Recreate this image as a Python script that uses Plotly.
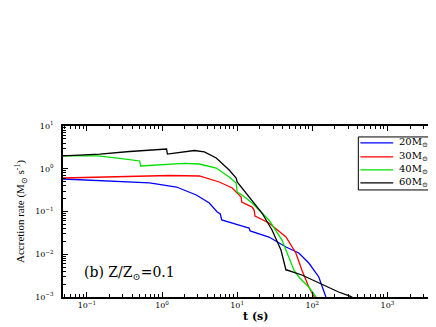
import plotly.graph_objects as go

# ---- data ----
series_names = ["20M<sub>⊙</sub>", "30M<sub>⊙</sub>", "40M<sub>⊙</sub>", "60M<sub>⊙</sub>"]
series_colors = ["#0000ff", "#ff0000", "#00e000", "#000000"]

t_20 = [0.048, 0.149, 0.683, 1.56, 2.86, 4.26, 5.43, 5.96, 6.23, 10.6, 14.4, 14.9, 26.5, 44.6, 66.2, 89.9, 122, 151, 160]
a_20 = [0.576, 0.517, 0.465, 0.374, 0.243, 0.158, 0.0973, 0.0874, 0.0633, 0.0483, 0.0411, 0.0350, 0.0253, 0.0148, 0.0107, 0.00624, 0.00294, 0.00103, 0.0008]

t_30 = [0.048, 0.274, 1.26, 3.14, 5.78, 8.59, 10.6, 11.3, 11.5, 15.8, 16.8, 17.3, 26.5, 44.6, 60.4, 72.6, 89.9, 105, 110]
a_30 = [0.608, 0.641, 0.695, 0.677, 0.490, 0.355, 0.243, 0.218, 0.167, 0.127, 0.108, 0.0785, 0.0538, 0.0253, 0.0107, 0.00428, 0.00171, 0.00103, 0.0009]

t_40 = [0.048, 0.140, 0.274, 0.504, 0.519, 0.927, 1.99, 3.14, 5.27, 7.83, 9.70, 10.0, 11.6, 15.8, 26.5, 39.5, 48.8, 56.9, 66.2, 89.9, 111, 116]
a_40 = [1.99, 1.99, 1.74, 1.52, 1.16, 1.22, 1.33, 1.29, 1.04, 0.641, 0.465, 0.286, 0.243, 0.158, 0.0633, 0.0215, 0.00862, 0.00428, 0.00294, 0.00171, 0.00103, 0.0009]

t_60 = [0.048, 0.149, 0.371, 0.683, 1.15, 1.18, 1.87, 2.69, 3.66, 5.27, 7.83, 9.70, 10.0, 11.6, 15.3, 21.4, 29.1, 38.3, 44.6, 45.9, 72.6, 122, 224, 324, 367]
a_60 = [1.99, 2.21, 2.53, 2.75, 2.90, 2.21, 2.47, 2.67, 2.47, 1.78, 0.935, 0.608, 0.490, 0.355, 0.186, 0.0922, 0.0369, 0.01256, 0.00428, 0.00428, 0.00327, 0.00213, 0.00131, 0.00103, 0.0009]

x_tickvals = [0.1, 1, 10, 100, 1000, 10000]
x_ticktext = ["10<sup>−1</sup>", "10<sup>0</sup>", "10<sup>1</sup>", "10<sup>2</sup>", "10<sup>3</sup>", "10<sup>4</sup>"]
y_tickvals = [0.001, 0.01, 0.1, 1, 10]
y_ticktext = ["10<sup>−3</sup>", "10<sup>−2</sup>", "10<sup>−1</sup>", "10<sup>0</sup>", "10<sup>1</sup>"]

xs = [t_20, t_30, t_40, t_60]
ys = [a_20, a_30, a_40, a_60]

SERIF = "DejaVu Serif"

fig = go.Figure()
for name, col, x, y in zip(series_names, series_colors, xs, ys):
    fig.add_trace(go.Scatter(x=x, y=y, mode="lines", name=name,
                             line=dict(color=col, width=1.3), showlegend=False))

axis_common = dict(
    type="log", showline=True, linecolor="black", linewidth=1.6, mirror="allticks",
    ticks="inside", ticklen=5, tickwidth=1, tickcolor="black",
    showgrid=False, zeroline=False,
    tickfont=dict(family=SERIF, size=8, color="black"),
    minor=dict(dtick="D1", ticks="inside", ticklen=3, tickwidth=1, tickcolor="black", showgrid=False),
)

fig.update_xaxes(range=[-1.318, 3.62], tickmode="array", tickvals=x_tickvals, ticktext=x_ticktext,
                 **axis_common)
fig.update_yaxes(range=[-3, 1], tickmode="array", tickvals=y_tickvals, ticktext=y_ticktext,
                 ticklabelstandoff=6,
                 title=dict(text="Accretion rate (M<sub>⊙</sub> s<sup>-1</sup>)",
                            font=dict(family="Liberation Serif", size=11, color="black"), standoff=8),
                 **axis_common)

# manual legend (box, sample lines, labels)
leg_y = [0.901, 0.819, 0.743, 0.667]
fig.add_shape(type="rect", xref="paper", yref="paper", x0=0.796, x1=1.05, y0=0.626, y1=0.936,
              line=dict(color="black", width=1), fillcolor="white", layer="above")
for name, col, yy in zip(series_names, series_colors, leg_y):
    fig.add_shape(type="line", xref="paper", yref="paper", x0=0.8016, x1=0.890, y0=yy, y1=yy,
                  line=dict(color=col, width=1.3), layer="above")
    fig.add_annotation(text=name, xref="paper", yref="paper", x=0.9, y=yy, xanchor="left",
                       yanchor="middle", showarrow=False,
                       font=dict(family=SERIF, size=10, color="black"))

fig.add_annotation(text="(b) Z/Z<sub>⊙</sub>=0.1", xref="paper", yref="paper", x=0.05, y=0.14,
                   xanchor="left", yanchor="middle", showarrow=False,
                   font=dict(family=SERIF, size=14, color="black"))
fig.add_annotation(text="<b>t (s)</b>", xref="paper", yref="paper", x=0.52, y=-0.115,
                   xanchor="center", yanchor="middle", showarrow=False,
                   font=dict(family=SERIF, size=11, color="black"))

# page body has an 8px margin: shrink the figure and margins so the plot area lands where the reference has it
fig.update_layout(width=428, height=319, margin=dict(l=55, r=0, t=118, b=30),
                  paper_bgcolor="white", plot_bgcolor="white", showlegend=False)

fig.write_html("out.html")
